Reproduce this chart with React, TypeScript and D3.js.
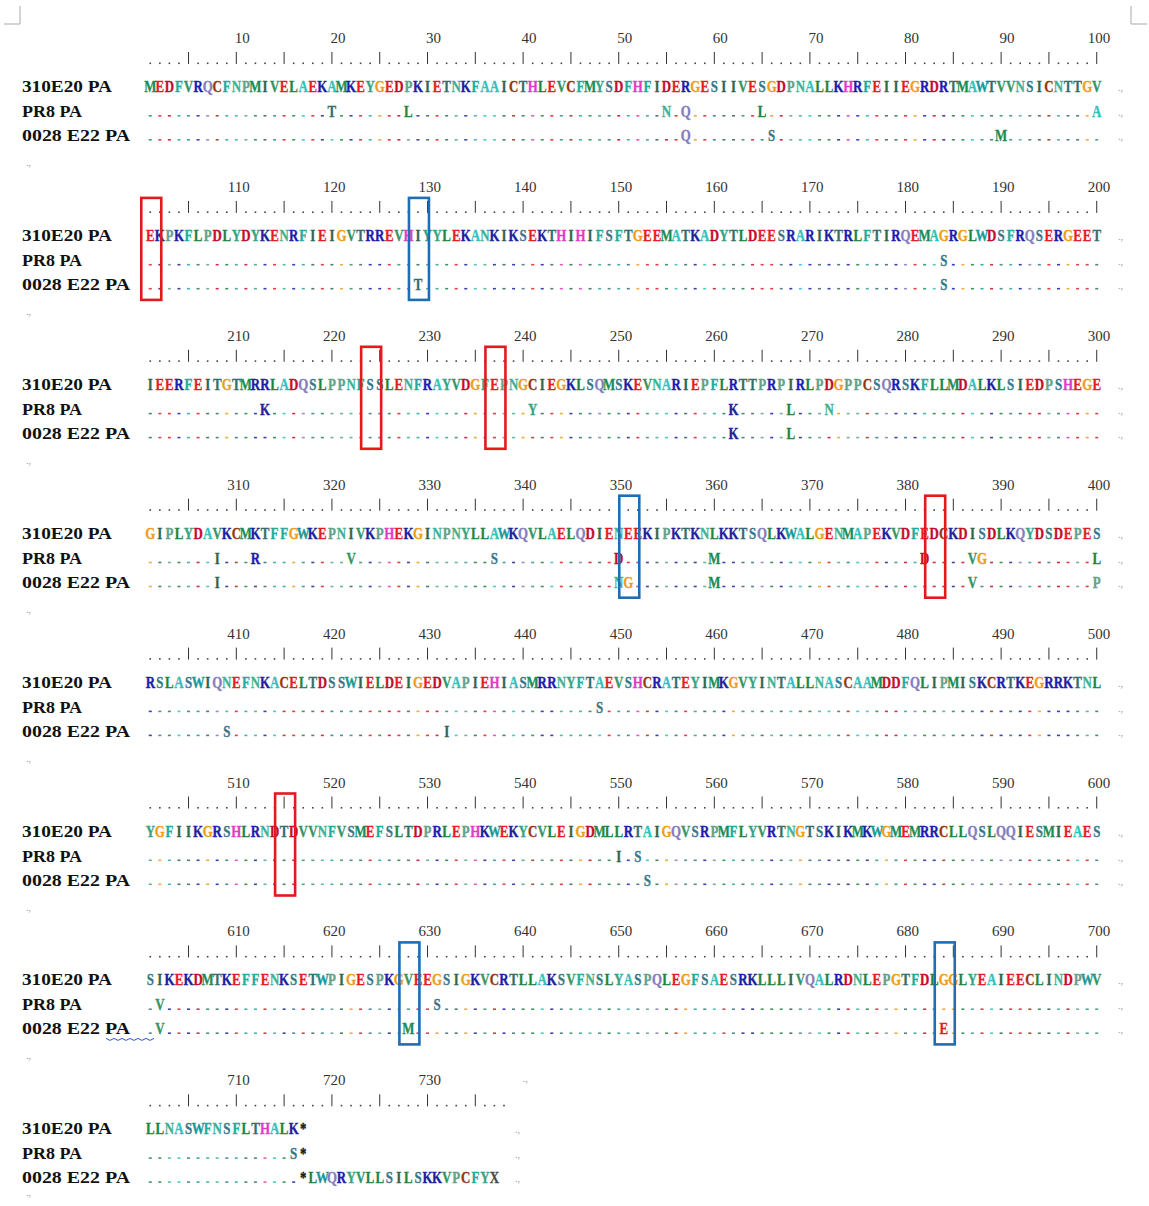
import React from 'react';
import * as d3 from 'd3';

// aligned sequences, 100 residues per block
const SEQ_310E20 = [
  'MEDFVRQCFNPMIVELAEKAMKEYGEDPKIETNKFAAICTHLEVCFMYSDFHFIDERGESIIVESGDPNALLKHRFEIIEGRDRTMAWTVVNSICNTTGV',
  'EKPKFLPDLYDYKENRFIEIGVTRREVHIYYLEKANKIKSEKTHIHIFSFTGEEMATKADYTLDEESRARIKTRLFTIRQEMAGRGLWDSFRQSERGEET',
  'IEERFEITGTMRRLADQSLPPNFSSLENFRAYVDGFEPNGCIEGKLSQMSKEVNARIEPFLRTTPRPIRLPDGPPCSQRSKFLLMDALKLSIEDPSHEGE',
  'GIPLYDAVKCMKTFFGWKEPNIVKPHEKGINPNYLLAWKQVLAELQDIENEEKIPKTKNLKKTSQLKWALGENMAPEKVDFEDCKDISDLKQYDSDEPES',
  'RSLASWIQNEFNKACELTDSSWIELDEIGEDVAPIEHIASMRRNYFTAEVSHCRATEYIMKGVYINTALLNASCAAMDDFQLIPMISKCRTKEGRRKTNL',
  'YGFIIKGRSHLRNDTDVVNFVSMEFSLTDPRLEPHKWEKYCVLEIGDMLLRTAIGQVSRPMFLYVRTNGTSKIKMKWGMEMRRCLLQSLQQIESMIEAES',
  'SIKEKDMTKEFFENKSETWPIGESPKGVEEGSIGKVCRTLLAKSVFNSLYASPQLEGFSAESRKLLLIVQALRDNLEPGTFDLGGLYEAIEECLINDPWV',
  'LLNASWFNSFLTHALK*',
];

// residues that differ from 310E20 PA (position, residue)
const PR8_DIFFS: [number, string][] = [
  [20, 'T'], [28, 'L'], [55, 'N'], [57, 'Q'], [65, 'L'], [100, 'A'],
  [184, 'S'], [213, 'K'], [241, 'Y'], [262, 'K'], [268, 'L'], [272, 'N'],
  [308, 'I'], [312, 'R'], [322, 'V'], [337, 'S'], [350, 'D'], [360, 'M'], [382, 'D'], [387, 'V'], [388, 'G'], [400, 'L'],
  [448, 'S'], [550, 'I'], [552, 'S'], [602, 'V'], [631, 'S'], [716, 'S'],
];
const E22_DIFFS: [number, string][] = [
  [57, 'Q'], [66, 'S'], [90, 'M'], [129, 'T'], [184, 'S'], [262, 'K'], [268, 'L'],
  [308, 'I'], [350, 'N'], [351, 'G'], [360, 'M'], [387, 'V'], [400, 'P'],
  [409, 'S'], [432, 'I'], [553, 'S'], [602, 'V'], [628, 'M'], [684, 'E'],
];
const E22_TAIL = '*LWQRYVLLSILSKKVPCFYX';

const ROW_LABELS = ['310E20 PA', 'PR8 PA', '0028 E22 PA'];
const RULER_MAX = 738;

const BOXES: { pos: number; kind: 'red' | 'blue' }[] = [
  { pos: 101, kind: 'red' }, { pos: 129, kind: 'blue' },
  { pos: 224, kind: 'red' }, { pos: 237, kind: 'red' },
  { pos: 351, kind: 'blue' }, { pos: 383, kind: 'red' },
  { pos: 515, kind: 'red' },
  { pos: 628, kind: 'blue' }, { pos: 684, kind: 'blue' },
];

const AA_COLORS: Record<string, string> = {
  A: '#2fc2bb', R: '#1c1cae', N: '#3fb192', D: '#c40c2c', C: '#96360e',
  Q: '#867cbc', E: '#e41c24', G: '#f09c18', H: '#de3cc4', I: '#30664c',
  L: '#20843b', K: '#20209c', M: '#1b8c54', F: '#22aa9a', P: '#64a28a',
  S: '#37778a', T: '#366d6a', W: '#189898', Y: '#34a484', V: '#339464',
  X: '#4a4a4a', '*': '#151515',
};

const W = 1149;
const H = 1206;
const BLOCK_H = 148.9;
const CHAR_W = 9.56;
const LEFT = 145.5;

function buildRow(diffs: [number, string][], tail?: string) {
  const full = SEQ_310E20.join('');
  const m = new Map(diffs);
  const out: { pos: number; ch: string; same: boolean }[] = [];
  for (let p = 1; p <= full.length; p++) {
    if (tail && p === 717) break;
    const d = m.get(p);
    out.push({ pos: p, ch: d ?? full[p - 1], same: d === undefined && full[p - 1] !== '*' });
  }
  if (tail) tail.split('').forEach((ch, i) => out.push({ pos: 717 + i, ch, same: false }));
  return out;
}

export default function App() {
  const x = d3.scaleLinear().domain([0, 100]).range([LEFT, LEFT + 100 * CHAR_W]);
  const cx = (p: number) => x(((p - 1) % 100) + 0.5);
  const blockOf = (p: number) => Math.floor((p - 1) / 100);
  const top = (b: number) => b * BLOCK_H;

  const full = SEQ_310E20.join('');
  const rows = [
    full.split('').map((ch, i) => ({ pos: i + 1, ch, same: false })),
    buildRow(PR8_DIFFS),
    buildRow(E22_DIFFS, E22_TAIL),
  ];
  const rowY = [86, 111, 135];
  const nBlocks = SEQ_310E20.length;
  const serif = '"Liberation Serif", "DejaVu Serif", serif';

  const glyph = (ch: string, px: number, py: number, key: string) => (
    <g key={key} transform={`translate(${px},${py + 6}) scale(0.76,1)`}>
      <text textAnchor="middle" fontFamily={serif} fontWeight="bold" fontSize={17}
        fill={AA_COLORS[ch] ?? '#222'} stroke={AA_COLORS[ch] ?? '#222'} strokeWidth={0.35}>{ch}</text>
    </g>
  );

  const blockEls = d3.range(nBlocks).map((b) => {
    const t = top(b);
    const first = b * 100 + 1;
    const last = Math.min(first + 99, RULER_MAX);
    const ticks = d3.range(first, last + 1);
    const labels = ticks.filter((p) => p % 10 === 0);
    const lastX = x(last - first + 1);
    const endX = b === nBlocks - 1 ? 515 : 1118;
    const isLast = b === nBlocks - 1;
    return (
      <g key={b}>
        {labels.map((p) => (
          <text key={p} x={cx(p) + 13.5} y={t + 43} textAnchor="end" fontFamily={serif}
            fontSize={15} fill="#333">{p}</text>
        ))}
        {ticks.map((p) => (p % 5 === 0 ? (
          <line key={p} x1={cx(p)} x2={cx(p)} y1={t + 52} y2={t + 64} stroke="#333" strokeWidth={1} />
        ) : (
          <rect key={p} x={cx(p) - 0.8} y={t + 62.5} width={1.6} height={1.6} fill="#444" />
        )))}
        {isLast && (
          <text x={lastX + 14} y={t + 40} fontSize={10} fill="#999" fontFamily={serif}>.,</text>
        )}
        {ROW_LABELS.map((lab, r) => (
          <text key={lab} x={22} y={t + rowY[r] + 6} fontFamily={serif} fontWeight="bold"
            fontSize={16} fill="#111" textLength={[90, 60, 108][r]} lengthAdjust="spacingAndGlyphs">
            {lab}
          </text>
        ))}
        {rowY.map((ry, r) => (
          <text key={r} x={endX} y={t + ry + 5} fontSize={10} fill="#999" fontFamily={serif}>.,</text>
        ))}
        <text x={26} y={isLast ? t + 154 : t + 166} fontSize={10} fill="#999" fontFamily={serif}>.,</text>
      </g>
    );
  });

  const rowEls = rows.map((row, r) =>
    row.map((c) => {
      const b = blockOf(c.pos);
      const py = top(b) + rowY[r];
      const px = cx(c.pos);
      if (c.same) {
        const base = full[c.pos - 1];
        return (
          <rect key={`${r}-${c.pos}`} x={px - 1.5} y={py + 4} width={3} height={1.6}
            fill={AA_COLORS[base] ?? '#444'} opacity={0.85} />
        );
      }
      return glyph(c.ch, px, py, `${r}-${c.pos}`);
    }),
  );

  const boxEls = BOXES.map((bx) => {
    const b = blockOf(bx.pos);
    const t = top(b);
    return (
      <rect key={bx.pos} x={cx(bx.pos) - 9} y={t + 49} width={20} height={102}
        fill="none" stroke={bx.kind === 'red' ? '#e3191c' : '#1f6db4'} strokeWidth={2.6} />
    );
  });

  // spell-check squiggle under "PA" (block 7, third row)
  const sqY = top(6) + rowY[2] + 10;
  const squiggle = d3.range(0, 13).map((i) => `${i === 0 ? 'M' : 'L'}${106 + i * 4},${sqY + (i % 2 ? 2 : 0)}`).join(' ');

  return (
    <svg width={W} height={H} style={{ position: 'absolute', left: 0, top: 0, background: '#fff' }}>
      <rect width={W} height={H} fill="#fff" />
      <path d="M20,6 V24 H4" fill="none" stroke="#aaa" strokeWidth={1} />
      <path d="M1131,6 V24 H1147" fill="none" stroke="#aaa" strokeWidth={1} />
      {blockEls}
      {rowEls}
      {boxEls}
      <path d={squiggle} fill="none" stroke="#3355cc" strokeWidth={1} />
    </svg>
  );
}
